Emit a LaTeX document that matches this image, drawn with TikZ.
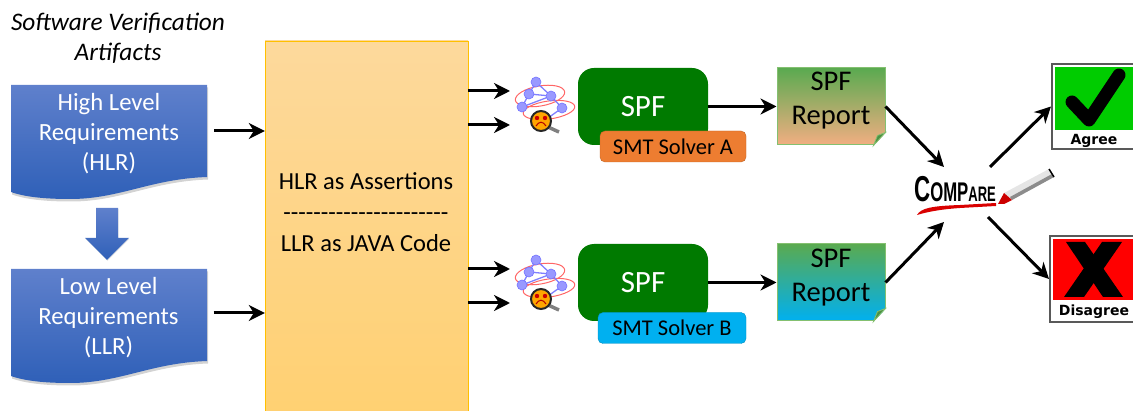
\documentclass[tikz,border=0pt]{standalone}
\usepackage{fontspec}
\setmainfont{Carlito}
\newfontfamily\cmpfont{Liberation Sans}
\newfontfamily\signfont{DejaVu Sans}
\usetikzlibrary{arrows.meta}
\usetikzlibrary{calc}
\usetikzlibrary{shadows}
\definecolor{docTop}{HTML}{5F80CC}
\definecolor{docBot}{HTML}{2F60B8}
\definecolor{spfGreen}{HTML}{007A00}
\definecolor{repGreen}{HTML}{5AAA50}
\definecolor{repEdge}{HTML}{84C070}
\definecolor{repPeach}{HTML}{F2AE82}
\definecolor{solverA}{HTML}{ED7D31}
\definecolor{solverB}{HTML}{00B0F0}
\definecolor{blockTop}{HTML}{FDD99C}
\definecolor{blockBot}{HTML}{FFD070}
\definecolor{blockEdge}{HTML}{FFC000}

\tikzset{
    txt/.style={font=\fontsize{24.7}{30}\selectfont, align=center, inner sep=0pt},
    flow/.style={black, line width=3pt, -{Stealth[length=16pt,width=16pt,inset=5pt]}},
    docbox/.style={top color=docTop, bottom color=docBot, drop shadow={shadow xshift=1pt,shadow yshift=-2.5pt,opacity=0.35}},
    spfbox/.style={rectangle, fill=spfGreen, rounded corners=16pt, minimum width=130pt, minimum height=77pt, inner sep=0pt, text=white, font=\fontsize{31}{36}\selectfont},
    solverbox/.style={rectangle, draw=#1!80!black, fill=#1, rounded corners=5pt, minimum height=31pt, inner sep=0pt, font=\fontsize{22.5}{26}\selectfont},
    repbox/.style={rectangle, draw=repEdge, line width=1pt, top color=repGreen, bottom color=#1, minimum width=108pt, minimum height=77pt},
    reptxt/.style={font=\fontsize{28.5}{34}\selectfont, align=center, inner sep=0pt},
    signbox/.style={rectangle, draw=black!65, line width=2pt, fill=white, minimum width=83pt, minimum height=85pt, inner sep=0pt},
    signtxt/.style={inner sep=0pt, font=\signfont\bfseries\fontsize{14}{16}\selectfont}
}

\begin{document}
\begin{tikzpicture}[x=1pt,y=-1pt]
            \useasboundingbox (0,0) rectangle (1133,411);
            \clip (0,0) rectangle (1133,411);

            \node[txt, font=\itshape\fontsize{25.3}{30}\selectfont] (title) at (118,38) {Software Verification\\Artifacts};

            % requirement sheets
            \foreach \dy in {0,184} {
                \path[docbox, shift={(0,\dy)}] (11,85) -- (207,85) -- (207,177)
                    .. controls (150,179) and (120,199) .. (70,199)
                    .. controls (45,199) and (25,197) .. (11,192) -- cycle;
            }
            \node[txt, text=white, minimum width=196pt, minimum height=92pt] (hlr) at (109,133.5) {High Level\\Requirements\\(HLR)};
            \node[txt, text=white, minimum width=196pt, minimum height=92pt] (llr) at (108.5,318) {Low Level\\Requirements\\(LLR)};
            \path[top color=docTop, bottom color=docBot, drop shadow={shadow xshift=0.5pt,shadow yshift=-1pt,opacity=0.2}] (96,208) -- (118,208) -- (118,238) -- (129,238) -- (107,260) -- (85,238) -- (96,238) -- cycle;

            \node[rectangle, draw=blockEdge, top color=blockTop, bottom color=blockBot, minimum width=203pt, minimum height=390pt, inner sep=0pt] (block) at (366.5,236) {};
            \node[txt, font=\fontsize{24.5}{30}\selectfont] (blocktxt) at (366,212) {HLR as Assertions\\[1pt]-{}-{}-{}-{}-{}-{}-{}-{}-{}-{}-{}-{}-{}-{}-{}-{}-{}-{}-{}-{}-{}-\\[1pt]LLR as JAVA Code};

            \draw[flow, shorten <=7pt] ([yshift=2.5pt]hlr.east) -- ([yshift=2.5pt]hlr.east -| block.west);
            \draw[flow, shorten <=7pt] ([yshift=5pt]llr.east) -- ([yshift=5pt]llr.east -| block.west);

            % graph and magnifier icon, twice
            \foreach \dy in {0,178} {
                \begin{scope}[shift={(0,\dy)}]
                    \draw[red!60!white, line width=1pt] (540,96) ellipse [x radius=25, y radius=10, rotate=10];
                    \draw[red!60!white, line width=1pt] (549,110) ellipse [x radius=26, y radius=9, rotate=8];
                    \draw[blue!50!white, line width=1.3pt] (536,82) -- (529,94) -- (522,107) -- (551,96) -- (536,82) (529,94) -- (551,96) -- (562,108) -- (548,118);
                    \foreach \gx/\gy in {536/82,529/94,551/96,522/107,562/108}
                        \fill[blue!40!white, draw=blue!55!white, line width=0.6pt] (\gx,\gy) circle (5);
                    \draw[black!50, line width=3.5pt] (548,127) -- (559,132);
                    \draw[black!85, fill=orange!70!yellow, line width=2pt] (541,121) circle (10);
                    \fill[red!80!black] (537,118) circle (2.2) (545,118) circle (2.2);
                    \draw[red!70!black, line width=1pt] (536,126) .. controls (539,121) and (543,121) .. (546,126);
                \end{scope}
            }
            \coordinate (icon_a1) at (510,91);
            \coordinate (icon_a2) at (510,125);
            \coordinate (icon_b1) at (510,269);
            \coordinate (icon_b2) at (510,303);
            \draw[flow] (block.east |- icon_a1) -- (icon_a1);
            \draw[flow] (block.east |- icon_a2) -- (icon_a2);
            \draw[flow] (block.east |- icon_b1) -- (icon_b1);
            \draw[flow] (block.east |- icon_b2) -- (icon_b2);

            \node[spfbox] (spf_a) at (643,106.5) {SPF};
            \node[spfbox] (spf_b) at (643,282.5) {SPF};
            \node[solverbox=solverA, minimum width=146pt] (solver_a) at (673,146.5) {SMT Solver A};
            \node[solverbox=solverB, minimum width=148pt] (solver_b) at (672,328) {SMT Solver B};

            \node[repbox=repPeach] (rep_a) at (831,106.5) {};
            \node[repbox=solverB] (rep_b) at (831,282.5) {};
            \node[reptxt] (rep_a_txt) at (831,101) {SPF\\Report};
            \node[reptxt] (rep_b_txt) at (831,278) {SPF\\Report};
            \foreach \rep in {rep_a,rep_b} {
                \fill[white] (\rep.south east) ++(0.5,-13) -- ++(0,14) -- ++(-13,0) -- cycle;
                \draw[repEdge, fill=repGreen!85!black, line width=0.8pt] (\rep.south east) ++(0,-13) -- ++(-8,3) -- ++(-4,10) -- cycle;
            }

            \draw[flow] (spf_a.east) -- (rep_a.west);
            \draw[flow] (spf_b.east) -- (rep_b.west);

            % compare with marker
            \node[inner sep=0pt] (compare) at (955,189) {\cmpfont\bfseries\scalebox{0.62}[1]{\fontsize{36}{36}\selectfont C\fontsize{27}{27}\selectfont OMP\fontsize{21}{21}\selectfont ARE}};
            \fill[red!85!black] (917,215) .. controls (921,208) and (932,206) .. (960,205) -- (996,203) -- (996,206) -- (960,208) .. controls (945,209) and (930,211) .. (917,215) -- cycle;
            \fill[black!10] (1004,193) -- (1049,169) -- (1054,177) -- (1012,200) -- cycle;
            \fill[black!45] (1010,197) -- (1052,174) -- (1054,177) -- (1012,200) -- cycle;
            \draw[black, line width=1.5pt] (1049,169) -- (1054,177);
            \fill[red!80!black] (1004,193) -- (1012,200) -- (1004,204) -- (998,204) -- cycle;

            \coordinate (cmp_in_a) at (944,167);
            \coordinate (cmp_in_b) at (944,222);
            \coordinate (cmp_out_a) at (990,167);
            \coordinate (cmp_out_b) at (988,217);
            \draw[flow] (rep_a.east) -- (cmp_in_a);
            \draw[flow] (rep_b.east) -- (cmp_in_b);

            \node[signbox] (agree) at (1093.5,106.5) {};
            \node[signbox, minimum width=86pt, minimum height=86pt] (disagree) at (1093,279) {};
            \fill[green!80!black] (1055,67) rectangle (1136,130);
            \draw[black, line width=13pt, line cap=round, line join=round] (1072,102) -- (1089,120) -- (1119,75);
            \fill[red] (1053,239) rectangle (1136,300);
            \fill[black] (1066,242) -- (1085,242) -- (1123,297) -- (1103,297) -- cycle;
            \fill[black] (1122,242) -- (1102,242) -- (1064,297) -- (1084,297) -- cycle;
            \node[signtxt] (agreetxt) at (1094,141) {Agree};
            \node[signtxt] (disagreetxt) at (1094,312) {Disagree};

            \draw[flow] (cmp_out_a) -- (agree.west);
            \draw[flow] (cmp_out_b) -- (disagree.west);

\end{tikzpicture}
\end{document}
